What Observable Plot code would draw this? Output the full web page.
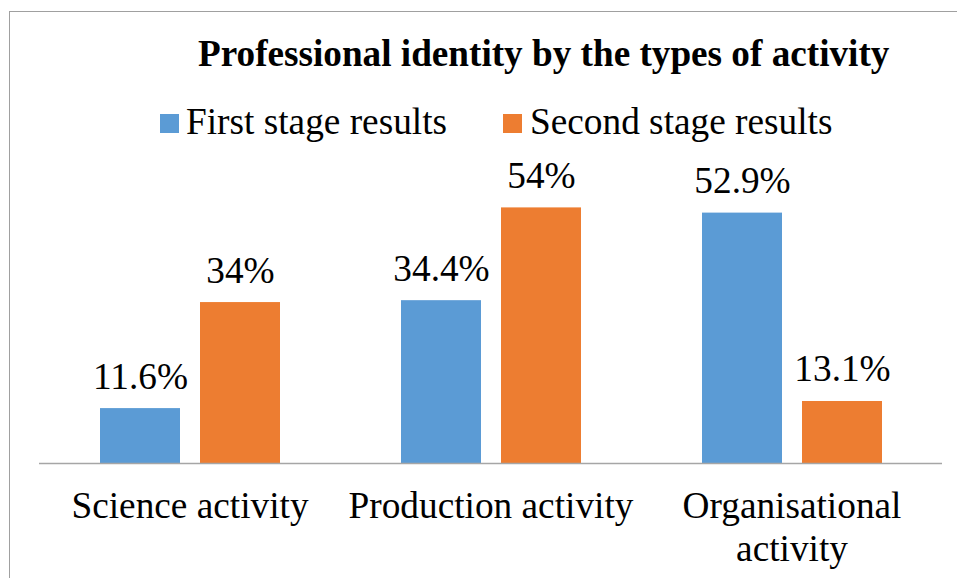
<!DOCTYPE html>
<html>
<head>
<meta charset="utf-8">
<script src="https://cdn.jsdelivr.net/npm/d3@7"></script>
<script src="https://cdn.jsdelivr.net/npm/@observablehq/plot@0.6"></script>
<style>
  html, body { margin: 0; padding: 0; background: #fff; }
  body { width: 957px; height: 578px; overflow: hidden; position: relative; font-family: "Liberation Serif", "Times New Roman", serif; color: #000; }
  #frame { position: absolute; left: 9px; top: 11px; width: 960px; height: 580px; border-left: 1px solid #a0a0a0; border-top: 1px solid #a0a0a0; z-index: 5; pointer-events: none; }
  #header { position: relative; width: 957px; height: 150px; }
  #title { position: absolute; left: 198px; top: 35px; font-family: "Liberation Serif", serif; font-size: 37.2px; line-height: 37.2px; font-weight: bold; white-space: nowrap; }
  .sw { position: absolute; top: 114px; width: 19px; height: 19px; }
  .lt { position: absolute; top: 103px; font-family: "Liberation Serif", serif; font-size: 37.3px; line-height: 37.3px; white-space: nowrap; }
  #chart { position: relative; }
  #chart svg text { font-family: "Liberation Serif", serif !important; }
</style>
</head>
<body>
<div id="frame"></div>
<div id="header">
  <div id="title"></div>
  <div id="legend"></div>
</div>
<div id="chart"></div>
<script>
const title = "Professional identity by the types of activity";
const categories = ["Science activity", "Production activity", "Organisational activity"];
const categoryLabels = ["Science activity", "Production activity", "Organisational\nactivity"];
const seriesNames = ["First stage results", "Second stage results"];
const seriesColors = ["#5b9bd5", "#ed7d31"];
const firstStage = [11.6, 34.4, 52.9];
const secondStage = [34, 54, 13.1];

document.getElementById("title").textContent = title;
const legend = document.getElementById("legend");
const swLeft = [160, 503], txLeft = [186, 530];
seriesNames.forEach((s, i) => {
  const sw = document.createElement("div");
  sw.className = "sw"; sw.style.left = swLeft[i] + "px"; sw.style.background = seriesColors[i];
  legend.appendChild(sw);
  const t = document.createElement("div");
  t.className = "lt"; t.style.left = txLeft[i] + "px"; t.textContent = s;
  legend.appendChild(t);
});

const data = [];
categories.forEach((c, i) => {
  data.push({category: c, series: seriesNames[0], value: firstStage[i]});
  data.push({category: c, series: seriesNames[1], value: secondStage[i]});
});
const labelOf = new Map(categories.map((c, i) => [c, categoryLabels[i]]));
const serif = "Liberation Serif";

const chart = Plot.plot({
  width: 957,
  height: 428,
  marginLeft: 38,
  marginRight: 15,
  marginTop: 29,
  marginBottom: 115,
  style: {fontFamily: serif, fontSize: "37px", color: "#000", background: "transparent", overflow: "visible"},
  fx: {domain: categories, padding: 0, axis: null},
  x: {domain: seriesNames, paddingInner: 0.2, paddingOuter: 0.6, axis: null},
  y: {domain: [0, 60], axis: null},
  color: {domain: seriesNames, range: seriesColors},
  marks: [
    Plot.barY(data, {fx: "category", x: "series", y: "value", fill: "series"}),
    Plot.ruleY([0], {stroke: "#a6a6a6", strokeWidth: 1.5}),
    Plot.text(data, {fx: "category", x: "series", y: "value", text: d => d.value + "%", lineAnchor: "bottom", dy: -20, fontSize: 37.3, fontFamily: serif, fill: "#000"}),
    Plot.axisFx({anchor: "bottom", tickSize: 0, tickPadding: 25, fontSize: 37.3, fontFamily: serif, lineHeight: 1.13, label: null, tickFormat: d => labelOf.get(d)})
  ]
});
document.getElementById("chart").appendChild(chart);
</script>
</body>
</html>
